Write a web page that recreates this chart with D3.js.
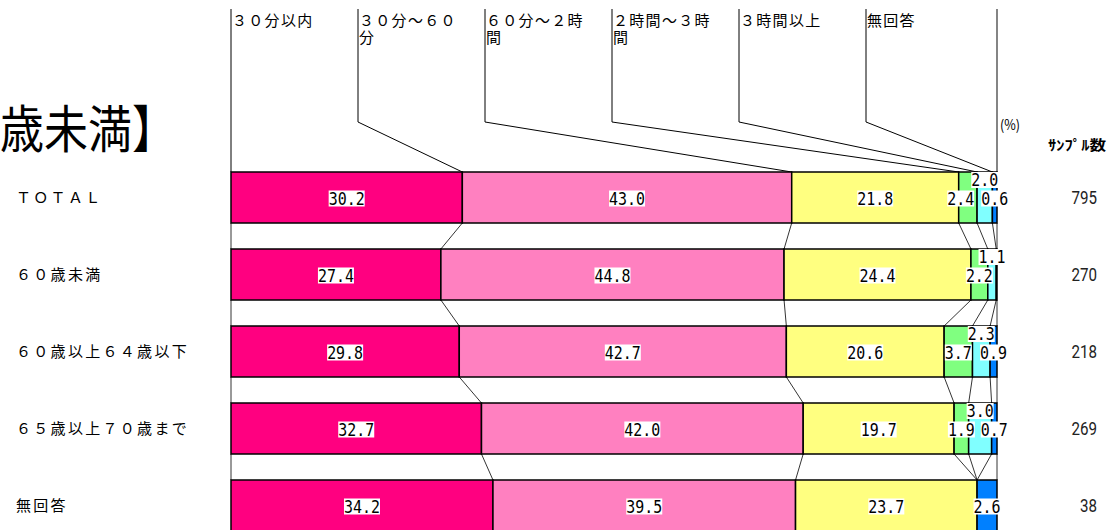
<!DOCTYPE html>
<html>
<head>
<meta charset="utf-8">
<script src="https://cdn.jsdelivr.net/npm/d3@7"></script>
<style>
  body { margin: 0; background: #fff; }
  svg { display: block; }
</style>
</head>
<body>
<div id="chart"></div>
<script>
// data
var categories = ["ＴＯＴＡＬ", "６０歳未満", "６０歳以上６４歳以下", "６５歳以上７０歳まで", "無回答"];
var sampleSizes = [795, 270, 218, 269, 38];
var seriesNames = [["３０分以内"], ["３０分～６０", "分"], ["６０分～２時", "間"], ["２時間～３時", "間"], ["３時間以上"], ["無回答"]];
var seriesColors = ["#FF0080", "#FF80C0", "#FFFF80", "#80FF80", "#80FFFF", "#0080FF"];
var within30 = [30.2, 27.4, 29.8, 32.7, 34.2];
var min30to60 = [43.0, 44.8, 42.7, 42.0, 39.5];
var min60to2h = [21.8, 24.4, 20.6, 19.7, 23.7];
var h2to3 = [2.4, 2.2, 3.7, 1.9, 0.0];
var over3h = [2.0, 1.1, 2.3, 3.0, 0.0];
var noAnswer = [0.6, 0.1, 0.9, 0.7, 2.6];

var series = [within30, min30to60, min60to2h, h2to3, over3h, noAnswer];

var W = 1109, H = 530;
var svg = d3.select("#chart").append("svg")
  .attr("width", W)
  .attr("height", H);

var x = d3.scaleLinear().domain([0, 100]).range([231, 997]);
var y = d3.scaleBand().domain(d3.range(categories.length))
  .range([172, 531]).paddingInner(26 / 77).paddingOuter(0);
var legendX = d3.scaleBand().domain(d3.range(series.length)).range([231, 993]);

// build stacked rows
var rows = categories.map(function(c, i) {
  var acc = 0;
  var segs = series.map(function(s, k) {
    var seg = {row: i, k: k, v: s[i], x0: acc, x1: acc + s[i]};
    acc += s[i];
    return seg;
  });
  return {name: c, n: sampleSizes[i], segs: segs};
});

// title (cut off on the left in the original)
svg.append("text")
  .attr("transform", "translate(-132,148) scale(1,1.15)")
  .style("font-family", "'Noto Sans CJK JP'")
  .style("font-size", "44px")
  .text("【６０歳未満】");

// header legend lines and labels
var kinkY = 122, topY = 9;
series.forEach(function(s, k) {
  var lx = legendX(k);
  var sx = x(rows[0].segs[k].x0);
  svg.append("path")
    .attr("d", "M" + lx + "," + topY + "L" + lx + "," + kinkY + "L" + sx + "," + y(0))
    .attr("fill", "none")
    .attr("stroke", "#000")
    .attr("stroke-width", 1);
  var t = svg.append("text")
    .style("font-family", "'Noto Sans CJK JP'")
    .style("font-size", "15px")
    .style("letter-spacing", "1.3px")
    .attr("fill", "#000");
  seriesNames[k].forEach(function(line, j) {
    t.append("tspan").attr("x", lx + 1).attr("y", 26 + j * 17).text(line);
  });
});
// right 100% line
svg.append("line")
  .attr("x1", x(100)).attr("x2", x(100))
  .attr("y1", topY).attr("y2", y(0))
  .attr("stroke", "#333").attr("stroke-width", 1.2);

svg.append("text")
  .attr("x", 1000).attr("y", 130)
  .style("font-family", "'Noto Sans CJK JP'")
  .style("font-size", "14px")
  .attr("textLength", 20).attr("lengthAdjust", "spacingAndGlyphs")
  .text("(%)");
svg.append("text")
  .attr("x", 1048).attr("y", 150)
  .style("font-family", "'Noto Sans CJK JP'")
  .style("font-size", "14px")
  .style("font-weight", "bold")
  .attr("textLength", 58).attr("lengthAdjust", "spacingAndGlyphs")
  .text("ｻﾝﾌﾟﾙ数");

// connector lines between rows
for (var i = 0; i < rows.length - 1; i++) {
  var bounds = [0].concat(rows[i].segs.map(function(d) { return d.x1; }));
  var bounds2 = [0].concat(rows[i + 1].segs.map(function(d) { return d.x1; }));
  bounds.forEach(function(b, j) {
    svg.append("line")
      .attr("x1", x(Math.min(b, 100))).attr("y1", y(i) + y.bandwidth())
      .attr("x2", x(Math.min(bounds2[j], 100))).attr("y2", y(i + 1))
      .attr("stroke", "#000").attr("stroke-width", 0.8);
  });
}

// bars
var rowG = svg.selectAll("g.row").data(rows).enter().append("g")
  .attr("class", "row")
  .attr("transform", function(d, i) { return "translate(0," + y(i) + ")"; });

rowG.selectAll("rect").data(function(d) { return d.segs.filter(function(s) { return s.v > 0; }); })
  .enter().append("rect")
  .attr("x", function(d) { return x(d.x0); })
  .attr("width", function(d) { return x(d.x1) - x(d.x0); })
  .attr("y", 0)
  .attr("height", y.bandwidth())
  .attr("fill", function(d) { return seriesColors[d.k]; })
  .attr("stroke", "#000")
  .attr("stroke-width", 1.5);

// row labels
rowG.append("text")
  .attr("x", 16)
  .attr("y", y.bandwidth() / 2)
  .attr("dy", "0.36em")
  .style("font-family", "'Noto Sans CJK JP'")
  .style("font-size", "15px")
  .style("letter-spacing", "2.3px")
  .attr("fill", "#000")
  .text(function(d) { return d.name; });

// sample counts
rowG.append("text")
  .attr("x", 1097)
  .attr("y", y.bandwidth() / 2)
  .attr("dy", "0.36em")
  .attr("text-anchor", "end")
  .style("font-family", "Roboto")
  .style("font-size", "18px")
  .attr("fill", "#222")
  .attr("textLength", function(d) { return String(d.n).length * 8.5; })
  .attr("lengthAdjust", "spacingAndGlyphs")
  .text(function(d) { return d.n; });

// value labels
var charW = 9, boxH = 16;
rows.forEach(function(r, i) {
  var labels = r.segs.filter(function(s) { return s.v >= 0.5; }).map(function(s) {
    var txt = s.v.toFixed(1);
    var w = txt.length * charW;
    var small = s.v < 5;
    return {
      txt: txt, w: w,
      cx: (x(s.x0) + x(s.x1)) / 2,
      top: small && s.k === 4
    };
  });
  // push overlapping middle labels to the left
  var mids = labels.filter(function(l) { return !l.top; });
  for (var j = mids.length - 2; j >= 0; j--) {
    var a = mids[j], b = mids[j + 1];
    if (a.cx + a.w / 2 > b.cx - b.w / 2 - 2) a.cx = b.cx - b.w / 2 - 7 - a.w / 2;
  }
  labels.forEach(function(l) {
    var cy = l.top ? y(i) + 8 : y(i) + y.bandwidth() / 2 + 1;
    svg.append("rect")
      .attr("x", l.cx - l.w / 2).attr("y", cy - boxH / 2)
      .attr("width", l.w).attr("height", boxH)
      .attr("fill", "#fff");
    svg.append("text")
      .attr("x", l.cx).attr("y", cy)
      .attr("dy", "0.36em")
      .attr("text-anchor", "middle")
      .style("font-family", "'DejaVu Sans Mono'")
      .style("font-size", "17px")
      .attr("textLength", l.w).attr("lengthAdjust", "spacingAndGlyphs")
      .attr("fill", "#000")
      .text(l.txt);
  });
});
</script>
</body>
</html>
